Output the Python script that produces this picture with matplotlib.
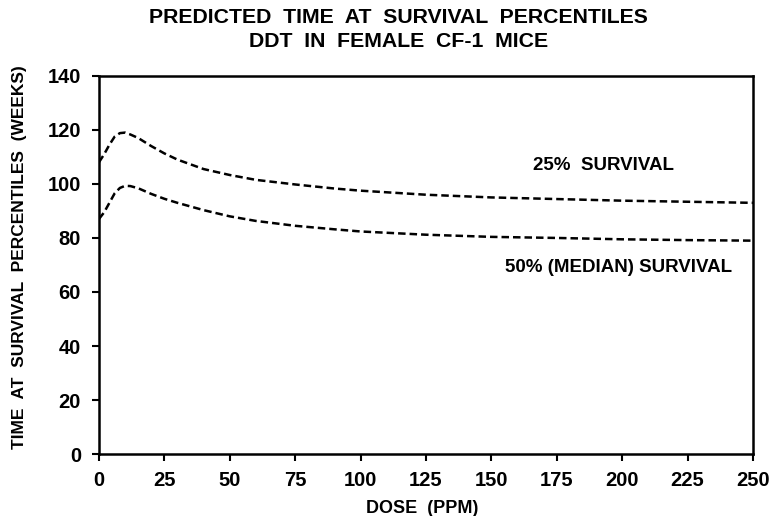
import matplotlib
matplotlib.use("Agg")
import matplotlib.pyplot as plt

plt.rcParams['font.family'] = ['Liberation Sans', 'DejaVu Sans']
plt.rcParams['font.weight'] = 'bold'
plt.rcParams['axes.labelweight'] = 'bold'
plt.rcParams['figure.titleweight'] = 'bold'

# dose (ppm) and predicted times (weeks)
dose = [0, 2, 4, 6, 8, 10, 12, 15, 20, 25, 30, 40, 50, 60, 75, 90, 100,
        125, 150, 175, 200, 225, 250]
surv25 = [108, 111, 114.5, 117.5, 118.8, 119, 118.3, 117, 114, 111.3, 109,
          105.5, 103.3, 101.5, 99.8, 98.3, 97.5, 96, 95, 94.4, 93.8, 93.4, 93]
surv50 = [87, 89.5, 93, 96.5, 98.5, 99.3, 99.2, 98.4, 96.3, 94.5, 93, 90.3,
          88, 86.3, 84.5, 83.2, 82.4, 81.2, 80.4, 80, 79.5, 79.2, 79]

xticks = list(range(0, 251, 25))
yticks = list(range(0, 141, 20))

fig = plt.figure(figsize=(7.73, 5.16), dpi=100)
ax = fig.add_axes([0.128, 0.120, 0.846, 0.733])

ax.plot(dose, surv25, color='black', lw=1.8, dashes=(3, 1.6))
ax.plot(dose, surv50, color='black', lw=1.8, dashes=(3, 1.6))

ax.set_xlim(0, 250)
ax.set_ylim(0, 140)
ax.set_xticks(xticks)
ax.set_yticks(yticks)
ax.tick_params(direction='out', length=5, width=1.5, labelsize=14.5)
ax.tick_params(axis='x', pad=7)
ax.tick_params(axis='y', pad=8)
for s in ax.spines.values():
    s.set_linewidth(1.8)

ax.text(193, 107, '25%  SURVIVAL', fontsize=13.5, ha='center', va='center')
ax.text(198.5, 69, '50% (MEDIAN) SURVIVAL', fontsize=13.5, ha='center', va='center')

ax.set_xlabel('DOSE  (PPM)', fontsize=13)
ax.xaxis.set_label_coords(0.495, -0.121)
ax.set_ylabel('TIME  AT  SURVIVAL  PERCENTILES  (WEEKS)', fontsize=12.5)
ax.yaxis.set_label_coords(-0.11, 0.52)
fig.suptitle('PREDICTED  TIME  AT  SURVIVAL  PERCENTILES\nDDT  IN  FEMALE  CF-1  MICE',
             fontsize=15.3, x=0.515, y=0.985, linespacing=1.35)

fig.savefig('out.png', dpi=100)
